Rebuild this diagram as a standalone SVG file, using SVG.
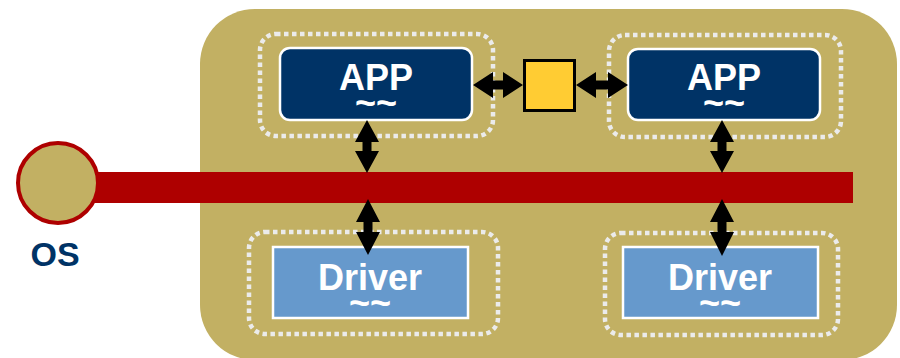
<svg xmlns="http://www.w3.org/2000/svg" width="900" height="358" viewBox="0 0 900 358">
  <style>
    .frame { fill: #C2B063; }
    .dots { fill: none; stroke: #EBEBEB; stroke-width: 4.5; stroke-dasharray: 4.5 3.5; }
    .app { fill: #003366; stroke: #FFFFFF; stroke-width: 2.5; }
    .drv { fill: #6699CC; stroke: #FFFFFF; stroke-width: 2.5; }
    .lbl { font-family: "Liberation Sans", Arial, sans-serif; font-weight: bold; font-size: 36px; fill: #FFFFFF; text-anchor: middle; }
    .arrow { fill: #000000; }
  </style>

  <!-- system frame -->
  <rect class="frame" x="200" y="9" width="697" height="351" rx="55" ry="55"/>

  <!-- OS bus -->
  <g id="os">
    <rect x="58" y="172" width="795" height="31" fill="#AE0000"/>
    <circle cx="58" cy="183" r="40" fill="#C2B063" stroke="#AE0000" stroke-width="4"/>
    <text x="55" y="266" font-family="Liberation Sans, Arial, sans-serif" font-weight="bold" font-size="34" fill="#003366" text-anchor="middle">OS</text>
  </g>

  <g id="app-left">
    <rect class="dots" x="260" y="34" width="233" height="102" rx="16"/>
    <rect class="app" x="280" y="48" width="192" height="72" rx="10"/>
    <text class="lbl"><tspan x="376" y="90">APP</tspan><tspan x="376" y="115">~~</tspan></text>
  </g>

  <g id="app-right">
    <rect class="dots" x="609" y="35" width="232" height="102" rx="16"/>
    <rect class="app" x="628" y="49" width="192" height="71" rx="10"/>
    <text class="lbl"><tspan x="724" y="90">APP</tspan><tspan x="724" y="115">~~</tspan></text>
  </g>

  <g id="shared">
    <rect x="524.5" y="60.5" width="50" height="50" fill="#FFCC33" stroke="#000000" stroke-width="3"/>
  </g>

  <g id="driver-left">
    <rect class="dots" x="249" y="232" width="249" height="102" rx="16"/>
    <rect class="drv" x="273" y="247" width="195" height="71"/>
    <text class="lbl"><tspan x="370" y="290">Driver</tspan><tspan x="370" y="315">~~</tspan></text>
  </g>

  <g id="driver-right">
    <rect class="dots" x="605" y="233" width="233" height="102" rx="16"/>
    <rect class="drv" x="623" y="247" width="195" height="71"/>
    <text class="lbl"><tspan x="720" y="290">Driver</tspan><tspan x="720" y="315">~~</tspan></text>
  </g>

  <!-- double-headed connectors -->
  <g id="connectors" class="arrow">
    <path d="M473,85 L493,72 L493,80.5 L503,80.5 L503,72 L523,85 L503,98 L503,89.5 L493,89.5 L493,98 Z"/>
    <path d="M576,85 L596,72 L596,80.5 L608,80.5 L608,72 L628,85 L608,98 L608,89.5 L596,89.5 L596,98 Z"/>
    <path d="M367,120 L379,142 L371.5,142 L371.5,151 L379,151 L367,173 L355,151 L362.5,151 L362.5,142 L355,142 Z"/>
    <path d="M722,120 L734,142 L726.5,142 L726.5,151 L734,151 L722,173 L710,151 L717.5,151 L717.5,142 L710,142 Z"/>
    <path d="M368,199 L380,222 L372.5,222 L372.5,232 L380,232 L368,255 L356,232 L363.5,232 L363.5,222 L356,222 Z"/>
    <path d="M722,199 L734,222 L726.5,222 L726.5,232 L734,232 L722,256 L710,232 L717.5,232 L717.5,222 L710,222 Z"/>
  </g>
</svg>
